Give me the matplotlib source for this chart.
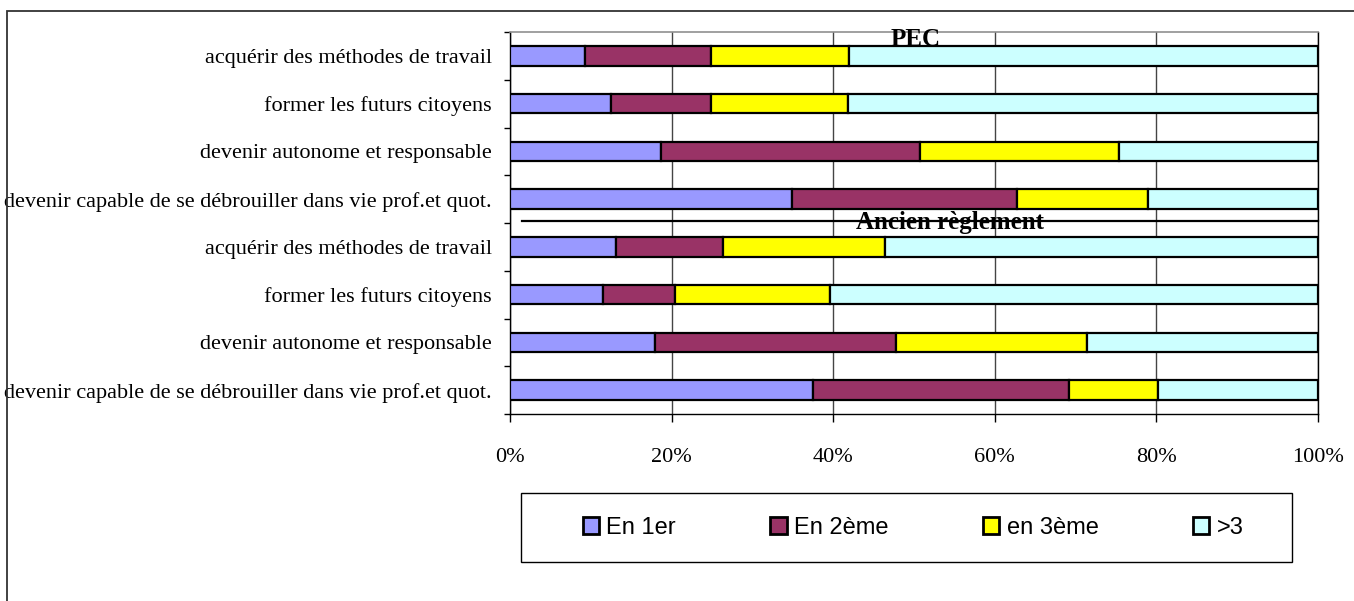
import matplotlib
matplotlib.use("Agg")
import matplotlib.pyplot as plt
from matplotlib.patches import Rectangle
import numpy as np

# Categories listed top to bottom
categories = [
    "acquérir des méthodes de travail",
    "former les futurs citoyens",
    "devenir autonome et responsable",
    "devenir capable de se débrouiller dans vie prof.et quot.",
    "acquérir des méthodes de travail",
    "former les futurs citoyens",
    "devenir autonome et responsable",
    "devenir capable de se débrouiller dans vie prof.et quot.",
]
series_names = ["En 1er", "En 2ème", "en 3ème", ">3"]
en_1er   = [9.3, 12.5, 18.7, 34.9, 13.1, 11.5, 18.0, 37.5]
en_2eme  = [15.6, 12.4, 32.1, 27.8, 13.2, 8.9, 29.8, 31.7]
en_3eme  = [17.1, 16.9, 24.6, 16.2, 20.1, 19.2, 23.6, 11.0]
plus_3   = [58.0, 58.2, 24.6, 21.1, 53.6, 60.4, 28.6, 19.8]
colors = ["#9999FF", "#993366", "#FFFF00", "#CCFFFF"]
x_ticks = [0, 20, 40, 60, 80, 100]
x_tick_labels = ["0%", "20%", "40%", "60%", "80%", "100%"]

W, H = 1354, 601
fig = plt.figure(figsize=(W / 100, H / 100), dpi=100)
serif = "Liberation Serif"
sans = "Liberation Sans"

ax = fig.add_axes([510 / W, 1 - 414 / H, (1318 - 510) / W, (414 - 32) / H])

n = len(categories)
ypos = np.arange(n)
left = np.zeros(n)
for name, vals, c in zip(series_names, [en_1er, en_2eme, en_3eme, plus_3], colors):
    vals = np.array(vals, dtype=float)
    ax.barh(ypos, vals, left=left, height=0.41, color=c, edgecolor="black",
            linewidth=1.6, label=name, zorder=3)
    left += vals

ax.set_ylim(n - 0.5, -0.5)
ax.set_xlim(0, 100)

ax.set_yticks(ypos)
ax.set_yticklabels(categories, fontsize=16, family=serif)
ax.set_yticks(np.arange(-0.5, n + 0.5, 1.0), minor=True)
ax.tick_params(axis="y", which="major", length=0, pad=13)
ax.tick_params(axis="y", which="minor", length=4.5, width=1, direction="out")

ax.set_xticks(x_ticks)
ax.set_xticklabels(x_tick_labels, fontsize=16, family=serif)
ax.tick_params(axis="x", which="major", length=6, width=1, direction="out", pad=18.5)

ax.grid(axis="x", color="#444444", linewidth=1, zorder=0)
ax.set_axisbelow(True)
for s in ["left", "bottom", "right"]:
    ax.spines[s].set_color("black")
    ax.spines[s].set_linewidth(1)
ax.spines["top"].set_color("#909090")
ax.spines["top"].set_linewidth(1.2)

# Separator line between the two groups
ax.plot([1.45, 100], [3.45, 3.45], color="black", linewidth=1.6, zorder=4, clip_on=False)

# Group titles
fig.text(916 / W, 1 - 39 / H, "PEC", ha="center", va="center",
         fontsize=18, fontweight="bold", family=serif)
fig.text(950 / W, 1 - 222 / H, "Ancien règlement", ha="center", va="center",
         fontsize=18, fontweight="bold", family=serif)

# Legend
frame = Rectangle((521 / W, 1 - 562 / H), (1292 - 521) / W, (562 - 493) / H,
                  transform=fig.transFigure, fill=False, edgecolor="black", linewidth=1)
fig.add_artist(frame)
leg = fig.legend(loc="center", bbox_to_anchor=(913 / W, 1 - 528 / H), ncol=4,
                 frameon=False, prop={"family": sans, "size": 17},
                 handlelength=0.7, handleheight=0.7, handletextpad=0.3,
                 columnspacing=4.0)
for h in leg.legend_handles:
    h.set_linewidth(2)

# Outer chart frame (left and top edges visible)
outer = Rectangle((7 / W, -0.2), 1.5, 1.2 - 11 / H, transform=fig.transFigure,
                  fill=False, edgecolor="#333333", linewidth=1.3)
fig.add_artist(outer)

fig.savefig("out.png", dpi=100, facecolor="white")
